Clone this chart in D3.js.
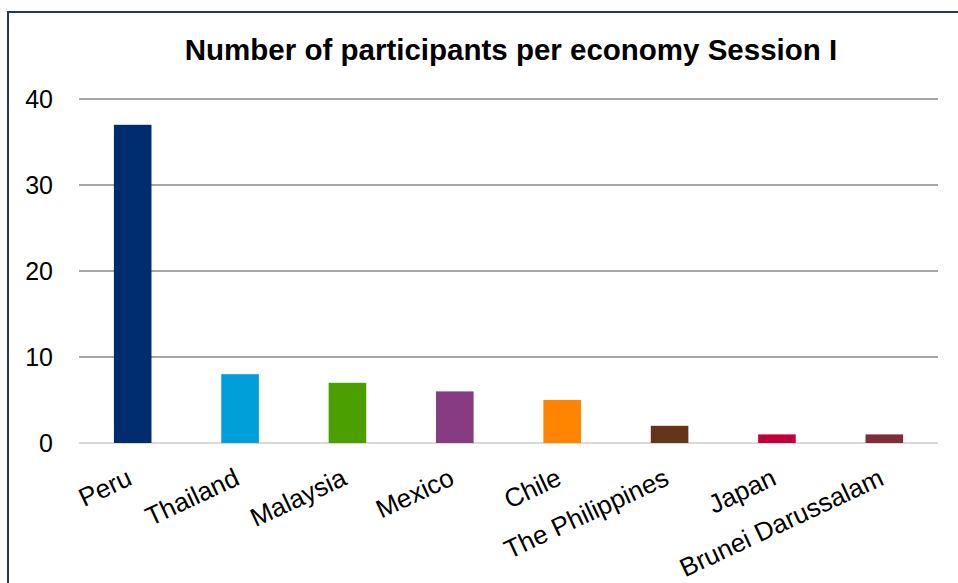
<!DOCTYPE html>
<html>
<head>
<meta charset="utf-8">
<script src="https://cdn.jsdelivr.net/npm/d3@7"></script>
<style>
	body { margin: 0; background: #fff; }
	svg { display: block; font-family: "Liberation Sans", Arial, sans-serif; }
	.grid line { stroke: #a6a6a6; stroke-width: 2; }
	.y-label { font-size: 25px; fill: #000; }
	.x-label { font-size: 26px; fill: #000; }
	.title { font-size: 29.5px; font-weight: bold; fill: #000; }
</style>
</head>
<body>
<svg id="chart"></svg>
<script>
const WIDTH = 958;
const HEIGHT = 583;

const economies = ["Peru", "Thailand", "Malaysia", "Mexico", "Chile", "The Philippines", "Japan", "Brunei Darussalam"];
const participants = [37, 8, 7, 6, 5, 2, 1, 1];
const barColors = ["#002d6e", "#009fda", "#4ba000", "#873c81", "#ff8400", "#643518", "#c4003c", "#7e2d39"];
const yTicks = [0, 10, 20, 30, 40];

const svg = d3.select("#chart").attr("width", WIDTH).attr("height", HEIGHT);

// outer frame, right and bottom edges fall off the picture
svg.append("rect")
	.attr("x", 8).attr("y", 12)
	.attr("width", 1000).attr("height", 700)
	.attr("fill", "none")
	.attr("stroke", "#1f3864")
	.attr("stroke-width", 2);

const x = d3.scaleBand(economies, [79, 938]).paddingInner(0.65).paddingOuter(0.325);
const y = d3.scaleLinear([0, 40], [443, 99]);

svg.append("text")
	.attr("class", "title")
	.attr("x", 511).attr("y", 60)
	.attr("text-anchor", "middle")
	.text("Number of participants per economy Session I");

svg.append("g")
	.attr("class", "grid")
	.selectAll("line")
	.data(yTicks)
	.join("line")
	.attr("x1", 79).attr("x2", 938)
	.attr("y1", d => y(d)).attr("y2", d => y(d))
	.style("stroke", d => d === 0 ? "#d9d9d9" : null);

svg.append("g")
	.selectAll("text")
	.data(yTicks)
	.join("text")
	.attr("class", "y-label")
	.attr("x", 53)
	.attr("y", d => y(d))
	.attr("dy", "0.36em")
	.attr("text-anchor", "end")
	.text(d => d);

svg.append("g")
	.selectAll("rect")
	.data(economies)
	.join("rect")
	.attr("x", d => x(d))
	.attr("y", (d, i) => y(participants[i]))
	.attr("width", x.bandwidth())
	.attr("height", (d, i) => y(0) - y(participants[i]))
	.attr("fill", (d, i) => barColors[i]);

svg.append("g")
	.selectAll("text")
	.data(economies)
	.join("text")
	.attr("class", "x-label")
	.attr("text-anchor", "end")
	.attr("transform", d => `translate(${x(d) + x.bandwidth() / 2 + 1},${484}) rotate(-25)`)
	.text(d => d);
</script>
</body>
</html>
